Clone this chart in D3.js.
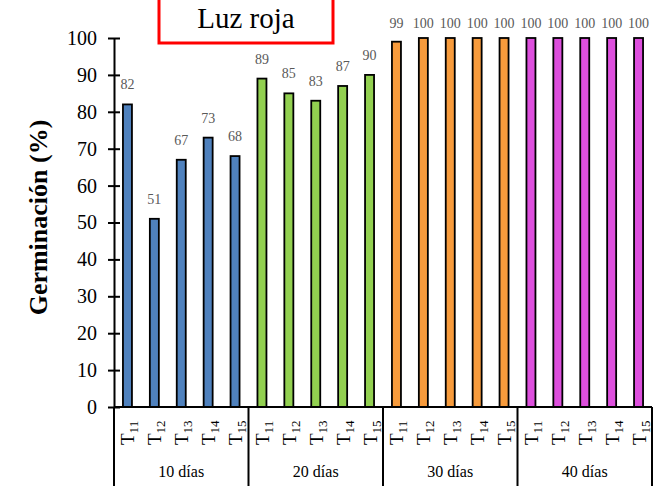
<!DOCTYPE html>
<html>
<head>
<meta charset="utf-8">
<script src="https://cdn.jsdelivr.net/npm/d3@7/dist/d3.min.js"></script>
<style>
  body { margin: 0; background: #fff; }
  text { font-family: "Liberation Serif", "Tinos", "Times New Roman", "DejaVu Serif", serif; }
</style>
</head>
<body>
<div id="chart"></div>
<script>
const groups = ["10 días", "20 días", "30 días", "40 días"];
const treatments = ["11", "12", "13", "14", "15"];
const groupColors = ["#4f81bd", "#92d050", "#f79b3c", "#dd4fdd"];
const values10 = [82, 51, 67, 73, 68];
const values20 = [89, 85, 83, 87, 90];
const values30 = [99, 100, 100, 100, 100];
const values40 = [100, 100, 100, 100, 100];
const yTicks = [0, 10, 20, 30, 40, 50, 60, 70, 80, 90, 100];

const series = [values10, values20, values30, values40];
const data = [];
groups.forEach((g, gi) => {
  treatments.forEach((t, ti) => {
    data.push({ key: g + "|" + t, group: g, gi: gi, t: t, value: series[gi][ti] });
  });
});

const width = 664, height = 486;
const margin = { top: 38, right: 12, bottom: 79, left: 114 };

const svg = d3.select("#chart").append("svg")
  .attr("width", width).attr("height", height);

const x = d3.scaleBand()
  .domain(data.map(d => d.key))
  .range([margin.left, width - margin.right]);

const y = d3.scaleLinear()
  .domain([0, 100])
  .range([height - margin.bottom, margin.top]);

const xg = d3.scaleBand()
  .domain(groups)
  .range([margin.left, width - margin.right]);

const barW = 9;

// bars
svg.append("g")
  .selectAll("rect")
  .data(data)
  .join("rect")
    .attr("x", d => x(d.key) + x.bandwidth() / 2 - barW / 2)
    .attr("y", d => y(d.value))
    .attr("width", barW)
    .attr("height", d => y(0) - y(d.value))
    .attr("fill", d => groupColors[d.gi])
    .attr("stroke", "#000")
    .attr("stroke-width", 1.8);

// value labels
svg.append("g")
  .attr("fill", "#595959")
  .style("font-size", "14px")
  .attr("text-anchor", "middle")
  .selectAll("text")
  .data(data)
  .join("text")
    .attr("x", d => x(d.key) + x.bandwidth() / 2)
    .attr("y", d => Math.max(y(d.value) - 15, y(100) - 10))
    .text(d => d.value);

// y axis
const yAxis = svg.append("g")
  .attr("transform", `translate(${margin.left},0)`)
  .call(d3.axisLeft(y).tickValues(yTicks).tickSize(0).tickPadding(17));
yAxis.attr("font-family", null);
yAxis.select(".domain").attr("stroke", "#000").attr("stroke-width", 2);
yAxis.selectAll("text").style("font-size", "20px").attr("fill", "#000");
yAxis.selectAll(".tick").append("line")
  .attr("x1", -6).attr("x2", 6)
  .attr("stroke", "#000").attr("stroke-width", 2);

// x baseline
svg.append("line")
  .attr("x1", margin.left).attr("x2", width - margin.right)
  .attr("y1", y(0)).attr("y2", y(0))
  .attr("stroke", "#000").attr("stroke-width", 2);

// group separators
const sepX = groups.map(g => xg(g)).concat([xg(groups[groups.length - 1]) + xg.bandwidth()]);
svg.append("g")
  .selectAll("line")
  .data(sepX)
  .join("line")
    .attr("x1", d => d).attr("x2", d => d)
    .attr("y1", y(0)).attr("y2", height)
    .attr("stroke", "#000").attr("stroke-width", 2);

// treatment labels (rotated, with subscript)
const tl = svg.append("g")
  .selectAll("text")
  .data(data)
  .join("text")
    .attr("transform", d => `translate(${x(d.key) + x.bandwidth() / 2 + 7},${y(0) + 38}) rotate(-90)`)
    .attr("fill", "#000")
    .style("font-size", "19px");
tl.append("tspan").text("T");
tl.append("tspan").attr("dy", 4).style("font-size", "13px").text(d => d.t);

// group labels
svg.append("g")
  .selectAll("text")
  .data(groups)
  .join("text")
    .attr("x", d => xg(d) + xg.bandwidth() / 2)
    .attr("y", 477)
    .attr("text-anchor", "middle")
    .style("font-size", "16px")
    .text(d => d);

// y axis title
svg.append("text")
  .attr("transform", `translate(47,${(y(0) + y(100)) / 2 - 5}) rotate(-90)`)
  .attr("text-anchor", "middle")
  .style("font-size", "26px")
  .style("font-weight", "bold")
  .text("Germinación (%)");

// title box
svg.append("rect")
  .attr("x", 159).attr("y", -6)
  .attr("width", 174).attr("height", 49)
  .attr("fill", "#fff")
  .attr("stroke", "#ff0000").attr("stroke-width", 3);
svg.append("text")
  .attr("x", 246).attr("y", 28)
  .attr("text-anchor", "middle")
  .style("font-size", "29px")
  .text("Luz roja");
</script>
</body>
</html>
